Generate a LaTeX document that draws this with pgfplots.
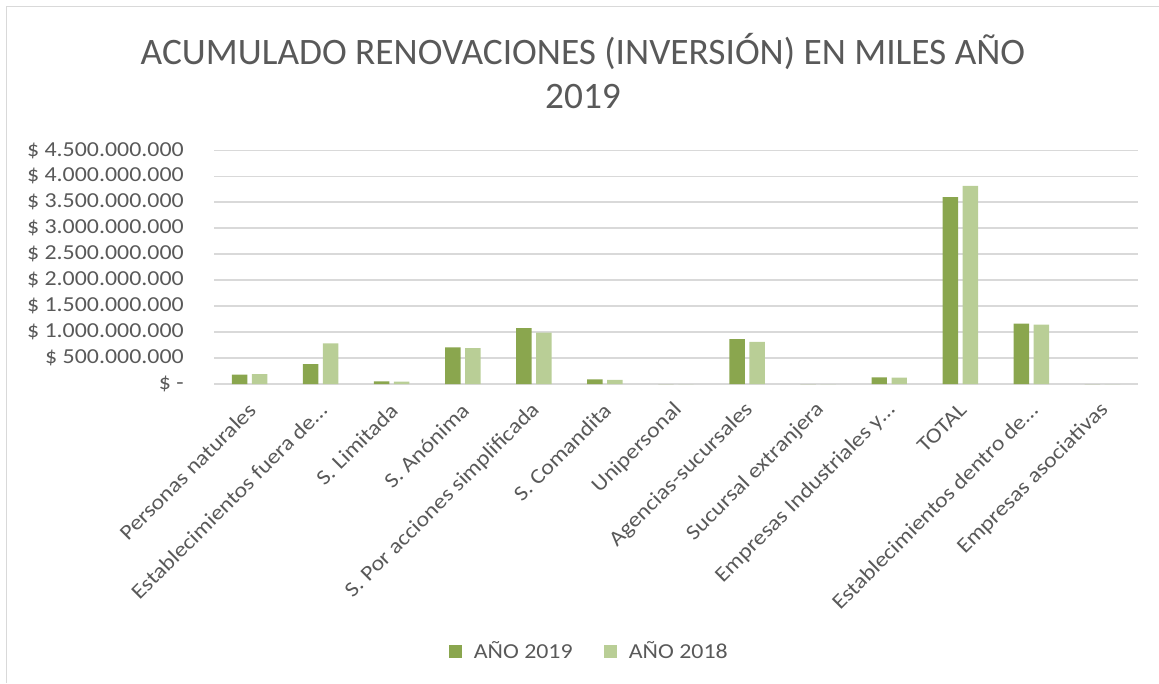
\documentclass[border=0pt]{standalone}
\usepackage{fontspec}
\setmainfont[FakeStretch=1.12]{Carlito}
\newfontfamily\titlefont{Carlito}
\usepackage{pgfplots}
\usepackage{pgfplotstable}
\pgfplotsset{compat=1.18}
\definecolor{dk}{HTML}{8AA64E}
\definecolor{lt}{HTML}{B9CE96}
\definecolor{grd}{HTML}{D9D9D9}
\definecolor{txt}{HTML}{595959}

\pgfplotstableread{
x y2019 y2018
0 179e6 192e6
1 384e6 780e6
2 50e6 45e6
3 703e6 691e6
4 1075e6 991e6
5 88e6 80e6
6 0 0
7 864e6 812e6
8 0 0
9 127e6 125e6
10 3597e6 3814e6
11 1164e6 1145e6
12 0 0
}\datatable

\begin{document}
\begin{tikzpicture}
\path[use as bounding box] (0,0) rectangle (869.25pt,512.25pt);
\draw[grd, line width=1.1pt] (5pt,0) -- (5pt,507.2pt) -- (869.25pt,507.2pt);
\node[anchor=base, text=txt, inner sep=0pt, font=\titlefont\fontsize{28}{33}\selectfont] at (437.25pt,463.5pt) {ACUMULADO RENOVACIONES (INVERSIÓN) EN MILES AÑO};
\node[anchor=base, text=txt, inner sep=0pt, font=\titlefont\fontsize{28}{33}\selectfont] at (437.25pt,430.5pt) {2019};
\begin{axis}[
  at={(160.5pt,224.25pt)}, anchor=south west,
  scale only axis, width=693pt, height=175.3pt,
  ybar=3.4pt, bar width=11.6pt,
  xmin=-0.5, xmax=12.5, ymin=0, ymax=4.5e9,
  scaled y ticks=false,
  axis line style={draw=none},
  major tick length=0pt,
  ymajorgrids, grid style={grd, line width=1.1pt},
  xtick={0,1,2,3,4,5,6,7,8,9,10,11,12},
  xticklabels={Personas naturales, Establecimientos fuera de…, S. Limitada, S. Anónima, S. Por acciones simplificada, S. Comandita, Unipersonal, Agencias-sucursales, Sucursal extranjera, Empresas Industriales y…, TOTAL, Establecimientos dentro de…, Empresas asociativas},
  ytick={0,500000000,1000000000,1500000000,2000000000,2500000000,3000000000,3500000000,4000000000,4500000000},
  yticklabels={{\$ -\hspace{6.75pt}}, {\$ 500.000.000}, {\$ 1.000.000.000}, {\$ 1.500.000.000}, {\$ 2.000.000.000}, {\$ 2.500.000.000}, {\$ 3.000.000.000}, {\$ 3.500.000.000}, {\$ 4.000.000.000}, {\$ 4.500.000.000}},
  yticklabel style={anchor=east, inner sep=0pt, xshift=-22.5pt, text=txt, font=\fontsize{16}{19}\selectfont},
  xticklabel style={xshift=2pt, yshift=-17pt, rotate=45, anchor=east, inner sep=0pt, text=txt, font=\fontsize{16}{19}\selectfont},
  legend style={at={(0.405,-1.144)}, anchor=center, draw=none, fill=none, inner sep=0pt, nodes={inner sep=0pt, text=txt}, font=\fontsize{16}{19}\selectfont, legend columns=2, /tikz/every odd column/.append style={column sep=8.5pt}, /tikz/every even column/.append style={column sep=23.3pt}},
  legend image code/.code={\fill[#1] (0pt,-5.15pt) rectangle (10.3pt,5.15pt);},
]
\addplot[fill=dk, draw=none] table[x=x, y=y2019] {\datatable};
\addplot[fill=lt, draw=none] table[x=x, y=y2018] {\datatable};
\legend{AÑO 2019, AÑO 2018}
\end{axis}
\end{tikzpicture}
\end{document}
